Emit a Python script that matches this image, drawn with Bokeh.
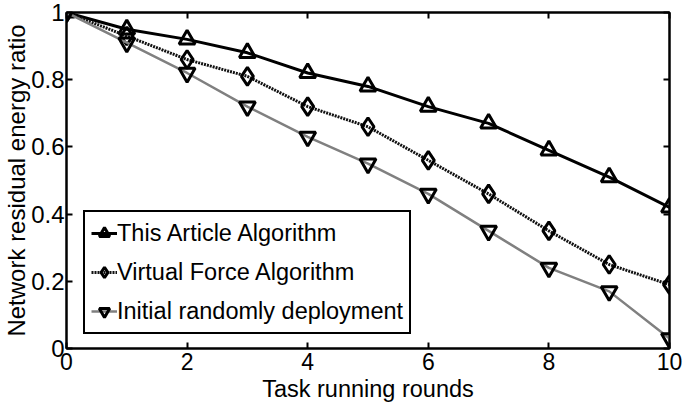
from bokeh.plotting import figure
from bokeh.models import LinearAxis, FixedTicker, Legend
from bokeh.embed import file_html
from bokeh.resources import INLINE

rounds = [0, 1, 2, 3, 4, 5, 6, 7, 8, 9, 10]
this_article = [1.0, 0.95, 0.92, 0.88, 0.82, 0.78, 0.72, 0.67, 0.59, 0.51, 0.42]
virtual_force = [1.0, 0.93, 0.86, 0.81, 0.72, 0.66, 0.56, 0.46, 0.35, 0.25, 0.19]
initial_random = [1.0, 0.91, 0.82, 0.72, 0.63, 0.55, 0.46, 0.35, 0.24, 0.17, 0.03]

x_ticks = [0, 2, 4, 6, 8, 10]
y_ticks = [0, 0.2, 0.4, 0.6, 0.8, 1.0]
labels = ["This Article Algorithm", "Virtual Force Algorithm", "Initial randomly deployment"]

FONT = "Liberation Sans"

p = figure(width=685, height=404, output_backend="svg", toolbar_location=None,
           x_range=(0, 10), y_range=(0, 1),
           min_border_left=65, min_border_right=16, min_border_top=12, min_border_bottom=56,
           x_axis_label="Task running rounds", y_axis_label="Network residual energy ratio")
p.grid.visible = False
p.outline_line_color = "black"
p.outline_line_width = 2
p.background_fill_color = "white"
p.border_fill_color = "white"

def style_axis(ax, ticks, show_labels=True):
    ax.ticker = FixedTicker(ticks=ticks)
    ax.minor_tick_line_color = None
    ax.major_tick_in = 6
    ax.major_tick_out = 0
    ax.major_tick_line_width = 2
    ax.major_tick_line_color = "black"
    ax.axis_line_color = "black"
    ax.axis_line_width = 2
    ax.major_label_text_font = FONT
    ax.major_label_text_color = "black"
    ax.axis_label_text_font = FONT
    ax.axis_label_text_font_style = "normal"
    ax.axis_label_text_color = "black"
    if show_labels:
        ax.major_label_text_font_size = "24px"
        ax.major_label_standoff = 2
        ax.axis_label_standoff = -2
    else:
        ax.major_label_text_font_size = "1px"
        ax.major_label_text_color = None
        ax.major_label_standoff = 0

style_axis(p.xaxis[0], x_ticks)
style_axis(p.yaxis[0], y_ticks)
p.xaxis[0].major_label_text_font_size = "23px"
p.xaxis[0].major_label_standoff = 4
p.xaxis[0].axis_label_standoff = 3
p.xaxis[0].axis_label_text_font_size = "23.5px"
p.yaxis[0].axis_label_text_font_size = "24px"
p.yaxis[0].major_label_overrides = {0: "0", 1: "1"}

top_axis = LinearAxis()
style_axis(top_axis, x_ticks, show_labels=False)
p.add_layout(top_axis, "above")
right_axis = LinearAxis()
style_axis(right_axis, y_ticks, show_labels=False)
p.add_layout(right_axis, "right")

# Series
l1 = p.line(rounds, this_article, line_color="black", line_width=3)
m1 = p.scatter(rounds, this_article, marker="triangle", size=16, line_color="black",
               line_width=3, fill_alpha=0)
l2 = p.line(rounds, virtual_force, line_color="#111111", line_width=3, line_dash="2 1")
m2 = p.scatter(rounds, virtual_force, marker="diamond", size=18, line_color="black",
               line_width=3, fill_alpha=0)
l3 = p.line(rounds, initial_random, line_color="#808080", line_width=2.5)
m3 = p.scatter(rounds, initial_random, marker="inverted_triangle", size=16, line_color="black",
               line_width=3, fill_alpha=0)

legend = Legend(items=[(labels[0], [l1, m1]), (labels[1], [l2, m2]), (labels[2], [l3, m3])],
                location=(17, 14))
legend.label_text_font = FONT
legend.label_text_font_size = "23.5px"
legend.label_text_color = "black"
legend.glyph_width = 26
legend.glyph_height = 30
legend.label_height = 30
legend.label_standoff = 0
legend.spacing = 9
legend.padding = 6
legend.margin = 0
legend.border_line_color = "black"
legend.border_line_alpha = 1
legend.border_line_width = 2
legend.background_fill_color = "white"
legend.background_fill_alpha = 1
p.add_layout(legend, "center")

html = file_html(p, INLINE)
open("out.html", "w").write(html)
